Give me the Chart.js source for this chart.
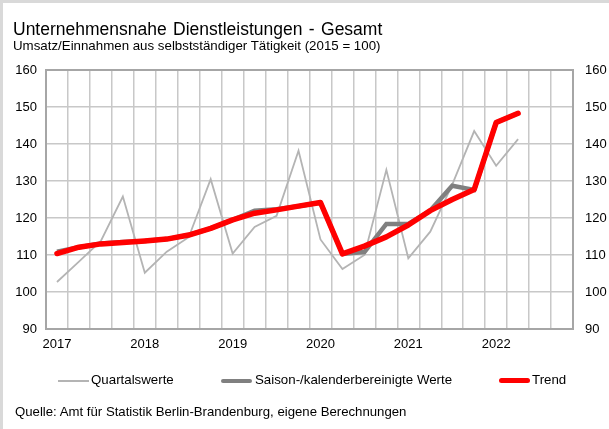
<!DOCTYPE html>
<html>
<head>
<meta charset="utf-8">
<script src="https://cdn.jsdelivr.net/npm/chart.js@4"></script>
<style>
  html, body { margin: 0; padding: 0; background: #fff; }
  body { width: 609px; height: 429px; position: relative; overflow: hidden; font-family: "Liberation Sans", Arial, sans-serif; color: #000; }
  .frame { position: absolute; left: 0; top: 0; width: 609px; height: 429px; box-sizing: border-box; border-top: 3px solid #d9d9d9; border-left: 3px solid #d9d9d9; }
  #chart { position: absolute; left: 0; top: 0; }
  .title { position: absolute; left: 13px; top: 19px; font-size: 17.5px; white-space: nowrap; word-spacing: 1.5px; }
  .subtitle { position: absolute; left: 13px; top: 38px; font-size: 13.3px; white-space: nowrap; }
  .legend { position: absolute; top: 372px; left: 0; font-size: 13.3px; white-space: nowrap; }
  .legend span { position: absolute; top: 0; }
  .legend i { position: absolute; display: block; }
  .source { position: absolute; left: 15px; top: 404px; font-size: 13.2px; white-space: nowrap; }
</style>
</head>
<body>
<div class="frame"></div>
<canvas id="chart" width="609" height="429"></canvas>
<div class="title">Unternehmensnahe Dienstleistungen - Gesamt</div>
<div class="subtitle">Umsatz/Einnahmen aus selbstständiger Tätigkeit (2015 = 100)</div>
<div class="legend">
  <i style="left:58px; top:8px; width:31px; height:2px; background:#b4b4b4;"></i>
  <span style="left:91px;">Quartalswerte</span>
  <i style="left:221px; top:7px; width:31px; height:4px; background:#808080; border-radius:2px;"></i>
  <span style="left:255px;">Saison-/kalenderbereinigte Werte</span>
  <i style="left:499px; top:6px; width:31px; height:5px; background:#ff0000; border-radius:3px;"></i>
  <span style="left:532px;">Trend</span>
</div>
<div class="source">Quelle: Amt für Statistik Berlin-Brandenburg, eigene Berechnungen</div>

<script>
// Quarters 2017 Q1 .. 2022 Q4
const years = ['2017', '2018', '2019', '2020', '2021', '2022'];
const quarters = years.flatMap(y => ['Q1', 'Q2', 'Q3', 'Q4'].map(q => y + ' ' + q));

// Index values (2015 = 100)
const quartalswerte = [102.7, 108.2, 113.8, 125.8, 105.2, 110.9, 114.8, 130.5, 110.4, 117.6, 120.6, 138.2,
                       114.2, 106.2, 110.0, 133.0, 109.1, 116.3, 129.0, 143.5, 134.1, 141.3, null, null];
const saisonbereinigt = [110.9, 112.1, 113.1, 113.5, 113.8, 114.3, 115.4, 117.2, 119.5, 122.0, 122.4, 123.2,
                         124.2, 110.3, 110.8, 118.4, 118.4, 122.0, 128.7, 127.6, 145.8, 148.3, null, null];
const trend = [110.4, 112.1, 113.0, 113.4, 113.8, 114.3, 115.4, 117.2, 119.5, 121.3, 122.2, 123.2,
               124.2, 110.3, 112.4, 114.9, 118.1, 122.0, 125.0, 127.7, 145.8, 148.3, null, null];

const yTicks = [90, 100, 110, 120, 130, 140, 150, 160];

document.addEventListener('DOMContentLoaded', () => {
  const ctx = document.getElementById('chart').getContext('2d');
  const font = { family: '"Liberation Sans", Arial, sans-serif', size: 13 };

  // Draw plot frame on top of grid
  const framePlugin = {
    id: 'plotFrame',
    beforeDatasetsDraw(chart) {
      const a = chart.chartArea;
      const c = chart.ctx;
      c.save();
      c.strokeStyle = '#a6a6a6';
      c.lineWidth = 2;
      c.strokeRect(a.left, a.top, a.right - a.left, a.bottom - a.top);
      c.restore();
    }
  };

  new Chart(ctx, {
    type: 'line',
    data: {
      labels: quarters,
      datasets: [
        { label: 'Trend', data: trend, borderColor: '#ff0000', borderWidth: 5.5, order: 0,
          borderCapStyle: 'round', borderJoinStyle: 'round', pointRadius: 0, tension: 0 },
        { label: 'Saison-/kalenderbereinigte Werte', data: saisonbereinigt, borderColor: '#808080', borderWidth: 4.5, order: 1,
          borderJoinStyle: 'miter', pointRadius: 0, tension: 0 },
        { label: 'Quartalswerte', data: quartalswerte, borderColor: '#b4b4b4', borderWidth: 1.8, order: 2,
          pointRadius: 0, tension: 0 }
      ]
    },
    options: {
      responsive: false,
      animation: false,
      layout: { padding: { top: 70, bottom: 70, left: 0, right: 0 } },
      plugins: { legend: { display: false }, tooltip: { enabled: false } },
      scales: {
        x: {
          offset: true,
          grid: { offset: true, color: '#c8c8c8', lineWidth: 1.5, drawTicks: false },
          border: { display: false },
          ticks: {
            autoSkip: false, maxRotation: 0, padding: 8, color: '#000', font,
            callback: (v, i) => quarters[i].endsWith('Q1') ? quarters[i].slice(0, 4) : ''
          },
          afterFit: s => { s.height = 30; }
        },
        y: {
          position: 'left', min: 90, max: 160,
          afterBuildTicks: s => { s.ticks = yTicks.map(v => ({ value: v })); },
          grid: { color: '#c8c8c8', lineWidth: 1.5, drawTicks: false },
          border: { display: false },
          ticks: { padding: 9, color: '#000', font },
          afterFit: s => { s.width = 46; }
        },
        y2: {
          position: 'right', min: 90, max: 160,
          afterBuildTicks: s => { s.ticks = yTicks.map(v => ({ value: v })); },
          grid: { display: false, drawTicks: false },
          border: { display: false },
          ticks: { padding: 12, color: '#000', font },
          afterFit: s => { s.width = 36; }
        }
      }
    },
    plugins: [framePlugin]
  });
});
</script>
</body>
</html>
